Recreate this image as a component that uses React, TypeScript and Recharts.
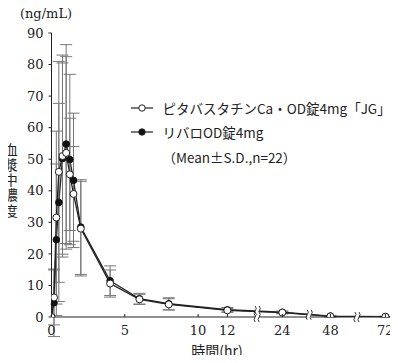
import React from 'react';
import { LineChart, Line, XAxis, YAxis, ErrorBar, Legend, ReferenceDot, Label } from 'recharts';

// sampling times (hr)
const times = [0, 0.17, 0.33, 0.5, 0.75, 1, 1.25, 1.5, 2, 4, 6, 8, 12, 24, 48, 72];
// ピタバスタチンCa・OD錠4mg「JG」
const pitaMean = [0, 6.2, 31.5, 46, 51, 52, 45.2, 39, 28, 10.6, 5.6, 4.0, 2.1, 1.4, 0.2, 0.1];
const pitaSD = [0, 8.7, 27.4, 35, 32, 30.5, 17.8, 15, 15, 4.3, 1.6, 1.8, 0.6, 0.4, 0.2, 0.1];
// リバロOD錠4mg
const livMean = [0, 4.5, 24.5, 36.3, 50.2, 54.8, 49.9, 43.3, 28.5, 11.5, 5.8, 4.2, 2.3, 1.5, 0.3, 0.1];
const livSD = [0, 10.7, 24, 31.4, 30.3, 31.5, 27, 21.3, 15, 4.7, 1.7, 1.9, 0.7, 0.4, 0.2, 0.1];

const xTickLabels = [0, 5, 10, 12, 24, 48, 72];
const yTicks = [0, 10, 20, 30, 40, 50, 60, 70, 80, 90];
const breakTimes = [18.5, 37.4, 59.6];

const seriesNames = ['ピタバスタチンCa・OD錠4mg「JG」', 'リバロOD錠4mg'];
const noteText = '（Mean±S.D.,n=22）';
const yTitle = '血漿中濃度';
const yUnit = '(ng/mL)';
const xTitle = '時間(hr)';

// broken time axis: linear to 12 h, compressed segments afterwards
function pos(t: number): number {
  if (t <= 12) return t;
  if (t <= 24) return 12 + ((t - 12) * 3.75) / 12;
  if (t <= 48) return 15.75 + ((t - 24) * 3.28) / 24;
  return 19.03 + ((t - 48) * 3.75) / 24;
}

const data = times.map((t, i) => ({
  pos: pos(t),
  pita: pitaMean[i],
  pitaSD: pitaSD[i],
  liv: livMean[i],
  livSD: livSD[i],
}));

const xTicks = xTickLabels.map(pos);

const JP = '"Noto Sans CJK JP", sans-serif';
const NUM = '"DejaVu Serif", serif';
const INK = '#222';

const XTick = (props: any) => {
  const { x, y, payload } = props;
  const label = xTickLabels[payload.index];
  return (
    <g>
      <line x1={x} x2={x} y1={y} y2={y - 3} stroke={INK} strokeWidth={1} />
      <text x={x} y={y + 18} textAnchor="middle" fontFamily={NUM} fontSize={13} fill={INK}>
        {label}
      </text>
    </g>
  );
};

const BreakMark = (props: any) => {
  const { cx, cy } = props;
  if (cx == null || cy == null) return null;
  const d = (x: number) => `M${x},${cy - 5} q2.2,2.5 0,5 q-2.2,2.5 0,5`;
  return (
    <g>
      <rect x={cx - 2} y={cy - 5} width={4} height={10} fill="#fff" />
      <path d={d(cx - 2)} stroke={INK} strokeWidth={0.9} fill="none" />
      <path d={d(cx + 2)} stroke={INK} strokeWidth={0.9} fill="none" />
    </g>
  );
};

const LegendContent = () => (
  <div style={{ fontFamily: JP, fontSize: 13.5, color: INK, lineHeight: '24.5px' }}>
    {[0, 1].map((k) => (
      <div key={k} style={{ display: 'flex', alignItems: 'center', height: 24.5, whiteSpace: 'nowrap' }}>
        <svg width={22} height={10} style={{ marginRight: 9.5 }}>
          <line x1={0} x2={22} y1={5} y2={5} stroke={INK} strokeWidth={1.2} />
          <circle cx={11} cy={5} r={3.2} fill={k === 0 ? '#fff' : '#111'} stroke={INK} strokeWidth={1} />
        </svg>
        <span>{seriesNames[k]}</span>
      </div>
    ))}
    <div style={{ height: 24.5, marginLeft: 31.5, whiteSpace: 'nowrap' }}>{noteText}</div>
  </div>
);

export default function App() {
  return (
    <div style={{ margin: -8, position: 'relative', width: 398, height: 363, overflow: 'hidden' }}>
      <LineChart
        width={398}
        height={363}
        data={data}
        margin={{ top: 33, right: 5, left: 0, bottom: 16 }}
      >
        <XAxis
          dataKey="pos"
          type="number"
          domain={[0, 23.3]}
          allowDataOverflow
          ticks={xTicks}
          interval={0}
          tickSize={0}
          tickMargin={0}
          tick={<XTick />}
          axisLine={{ stroke: INK, strokeWidth: 1 }}
          height={30}
        >
          <Label
            content={() => (
              <text x={217} y={356} textAnchor="middle" fontFamily={JP} fontSize={14} fill={INK}>
                {xTitle}
              </text>
            )}
          />
        </XAxis>
        <YAxis
          type="number"
          domain={[0, 90]}
          allowDataOverflow
          ticks={yTicks}
          interval={0}
          width={51.5}
          tickSize={3}
          tickMargin={5}
          tick={{ fontFamily: NUM, fontSize: 13, fill: INK }}
          tickLine={{ stroke: INK }}
          axisLine={{ stroke: INK, strokeWidth: 1 }}
        >
          <Label
            content={() => (
              <text x={46} y={18} textAnchor="middle" fontFamily={NUM} fontSize={13} fill={INK}>
                {yUnit}
              </text>
            )}
          />
          <Label
            content={() => (
              <text
                x={11}
                y={143}
                fontFamily={JP}
                fontSize={13.5}
                fill={INK}
                letterSpacing={1.7}
                style={{ writingMode: 'vertical-rl', textOrientation: 'upright' } as any}
              >
                {yTitle}
              </text>
            )}
          />
        </YAxis>
        <Legend
          layout="horizontal"
          verticalAlign="middle"
          align="center"
          content={<LegendContent />}
          wrapperStyle={{ position: 'absolute', left: 131, top: 95.5, width: 267 }}
        />
        <Line
          dataKey="liv"
          type="linear"
          stroke={INK}
          strokeWidth={1.3}
          isAnimationActive={false}
          dot={{ r: 3.3, fill: '#111', stroke: '#111', strokeWidth: 1 }}
        >
          <ErrorBar dataKey="livSD" width={6} stroke="#777" strokeWidth={1} direction="y" />
        </Line>
        <Line
          dataKey="pita"
          type="linear"
          stroke={INK}
          strokeWidth={1.3}
          isAnimationActive={false}
          dot={{ r: 3.5, fill: '#fff', stroke: INK, strokeWidth: 1 }}
        >
          <ErrorBar dataKey="pitaSD" width={6} stroke="#777" strokeWidth={1} direction="y" />
        </Line>
        <ReferenceDot x={pos(breakTimes[0])} y={1.9} ifOverflow="visible" shape={<BreakMark />} />
        <ReferenceDot x={pos(breakTimes[0])} y={0} ifOverflow="visible" shape={<BreakMark />} />
        <ReferenceDot x={pos(breakTimes[1])} y={0.7} ifOverflow="visible" shape={<BreakMark />} />
        <ReferenceDot x={pos(breakTimes[2])} y={0} ifOverflow="visible" shape={<BreakMark />} />
      </LineChart>
    </div>
  );
}
